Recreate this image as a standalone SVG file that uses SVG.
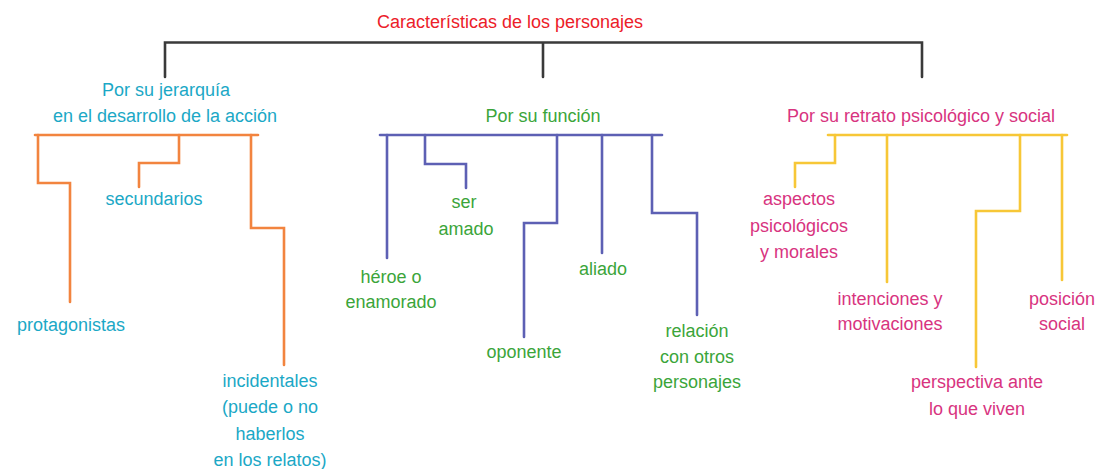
<svg xmlns="http://www.w3.org/2000/svg" width="1099" height="469" viewBox="0 0 1099 469">
<style>
text{font-family:"Liberation Sans",Arial,sans-serif;font-size:18px;text-anchor:middle}
.title{fill:#ec2029}
.cy{fill:#1ba8c6}
.gr{fill:#3ba53a}
.mg{fill:#d8347f}
.ln{fill:none;stroke-width:2.6;stroke-linecap:round;stroke-linejoin:miter}
.k{stroke:#3a3a3a}
.o{stroke:#f2843f}
.b{stroke:#5d60b4}
.y{stroke:#f7c737}
</style>
<rect width="1099" height="469" fill="#ffffff"/>
<g id="connectors">
<path class="ln k" d="M165 77V42.5H922V77M543 42.5V77"/>
<path class="ln o" d="M35 135H258"/>
<path class="ln o" d="M38 135V183H70V302"/>
<path class="ln o" d="M179 135V163H139V187"/>
<path class="ln o" d="M251 135V228H284V365"/>
<path class="ln b" d="M380 135H662"/>
<path class="ln b" d="M387 135V258"/>
<path class="ln b" d="M425 135V164H466V188"/>
<path class="ln b" d="M557 135V223H524V337"/>
<path class="ln b" d="M602 135V253"/>
<path class="ln b" d="M652 135V213H697V315"/>
<path class="ln y" d="M828 135H1067"/>
<path class="ln y" d="M835 135V163H795V187"/>
<path class="ln y" d="M887 135V282"/>
<path class="ln y" d="M1020 135V211H976V367"/>
<path class="ln y" d="M1062 135V280"/>
</g>
<g id="root"><text class="title" x="510" y="28">Características de los personajes</text></g>
<g id="jerarquia"><text class="cy" x="166" y="96">Por su jerarquía</text><text class="cy" x="165" y="122">en el desarrollo de la acción</text></g>
<g id="protagonistas"><text class="cy" x="71" y="331">protagonistas</text></g>
<g id="secundarios"><text class="cy" x="154" y="205">secundarios</text></g>
<g id="incidentales"><text class="cy" x="270" y="387">incidentales</text><text class="cy" x="270" y="413">(puede o no</text><text class="cy" x="270" y="440">haberlos</text><text class="cy" x="270" y="466">en los relatos)</text></g>
<g id="funcion"><text class="gr" x="543" y="122">Por su función</text></g>
<g id="heroe"><text class="gr" x="391" y="283">héroe o</text><text class="gr" x="391" y="308">enamorado</text></g>
<g id="ser-amado"><text class="gr" x="464" y="208">ser</text><text class="gr" x="466" y="235">amado</text></g>
<g id="oponente"><text class="gr" x="524" y="358">oponente</text></g>
<g id="aliado"><text class="gr" x="603" y="275">aliado</text></g>
<g id="relacion"><text class="gr" x="697" y="337">relación</text><text class="gr" x="697" y="363">con otros</text><text class="gr" x="697" y="388">personajes</text></g>
<g id="retrato"><text class="mg" x="921" y="122">Por su retrato psicológico y social</text></g>
<g id="aspectos"><text class="mg" x="799" y="205">aspectos</text><text class="mg" x="799" y="232">psicológicos</text><text class="mg" x="799" y="258">y morales</text></g>
<g id="intenciones"><text class="mg" x="890" y="305">intenciones y</text><text class="mg" x="890" y="330">motivaciones</text></g>
<g id="perspectiva"><text class="mg" x="977" y="388">perspectiva ante</text><text class="mg" x="977" y="415">lo que viven</text></g>
<g id="posicion"><text class="mg" x="1062" y="305">posición</text><text class="mg" x="1062" y="330">social</text></g>
</svg>
